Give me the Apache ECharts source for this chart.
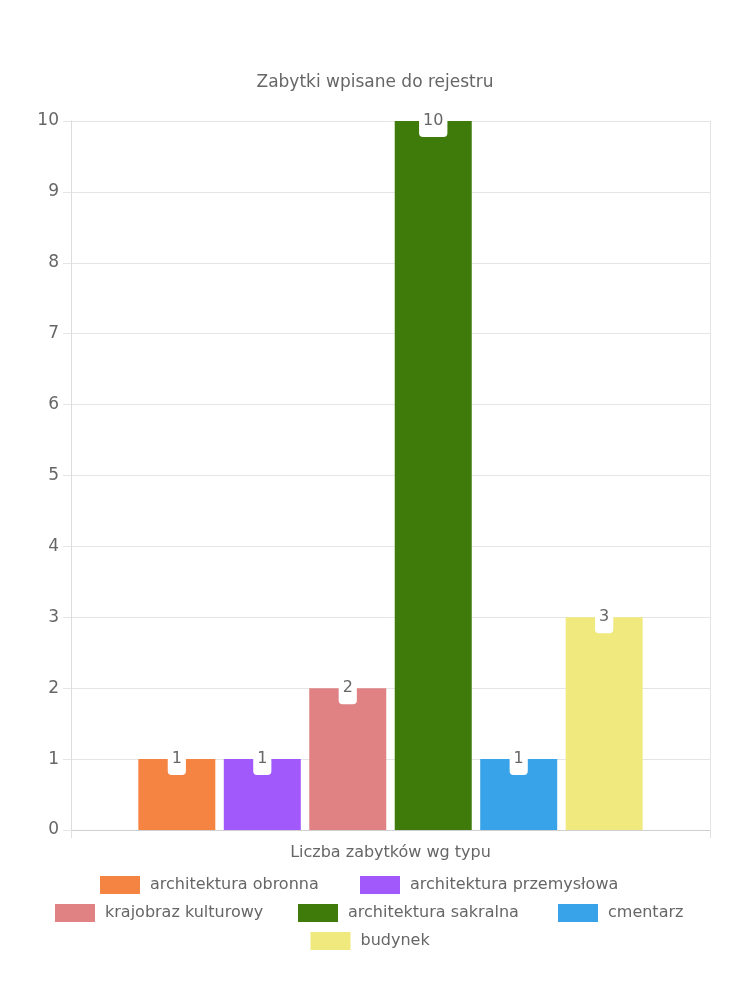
<!DOCTYPE html>
<html><head><meta charset="utf-8">
<script src="https://cdn.jsdelivr.net/npm/echarts@6/dist/echarts.min.js"></script>
<style>html,body{margin:0;padding:0;background:#fff}#c{width:750px;height:1000px}</style>
</head><body><div id="c"></div>
<script>
const titleText = 'Zabytki wpisane do rejestru';
const categories = ['Liczba zabytków wg typu'];
const seriesNames = ['architektura obronna','architektura przemysłowa','krajobraz kulturowy','architektura sakralna','cmentarz','budynek'];
const seriesValues = [1, 1, 2, 10, 1, 3];
const seriesColors = ['#f58442','#a259fc','#e08283','#3e7b0b','#38a3e8','#f0ea7e'];
const legendRows = [[0,1],[2,3,4],[5]];
const legendTextWidths = [200, 240, 183, 200, 87, 79];
const yTicks = {min:0, max:10, interval:1};

const FONT = 'DejaVu Sans';
const TXT = '#666';
const chart = echarts.init(document.getElementById('c'), null, {renderer:'canvas'});
const legendTops = [876, 904, 932];
chart.setOption({
  animation:false,
  textStyle:{fontFamily:FONT},
  title:{text:titleText,left:'center',top:69,textStyle:{fontFamily:FONT,fontSize:17,fontWeight:'normal',color:TXT}},
  grid:{left:71,right:40,top:121,bottom:170,containLabel:false},
  legend: legendRows.map((row,i)=>({
    data: row.map(k=>({name:seriesNames[k],textStyle:{width:legendTextWidths[k]}})),
    left:'center', top:legendTops[i], orient:'horizontal', padding:0,
    itemWidth:40, itemHeight:18, itemGap:10, icon:'rect',
    textStyle:{fontFamily:FONT,fontSize:16,color:TXT,padding:[0,0,0,5],lineHeight:18}
  })),
  xAxis:{type:'category',data:categories,
    axisLine:{show:true,lineStyle:{color:'#cfcfcf'}},
    axisTick:{show:true,length:8,lineStyle:{color:'#e0e0e0'}},
    axisLabel:{fontFamily:FONT,fontSize:16,color:TXT,margin:15},
    splitLine:{show:true,lineStyle:{color:'#e5e5e5'}}},
  yAxis:{type:'value',min:yTicks.min,max:yTicks.max,interval:yTicks.interval,
    axisLine:{show:true,lineStyle:{color:'#dcdcdc'}},
    axisTick:{show:true,length:8,lineStyle:{color:'#e5e5e5'}},
    axisLabel:{fontFamily:FONT,fontSize:17,color:TXT,margin:12},
    splitLine:{show:true,lineStyle:{color:'#e5e5e5'}}},
  series: seriesNames.map((n,i)=>({
    name:n,type:'bar',data:[seriesValues[i]],barWidth:77,barGap:'11%',
    itemStyle:{color:seriesColors[i]},
    label:{show:true,position:'top',distance:-16,fontFamily:FONT,fontSize:16,color:TXT,
      backgroundColor:'#fff',borderRadius:4,padding:[6,4,6,4],lineHeight:20}
  }))
});
</script></body></html>
